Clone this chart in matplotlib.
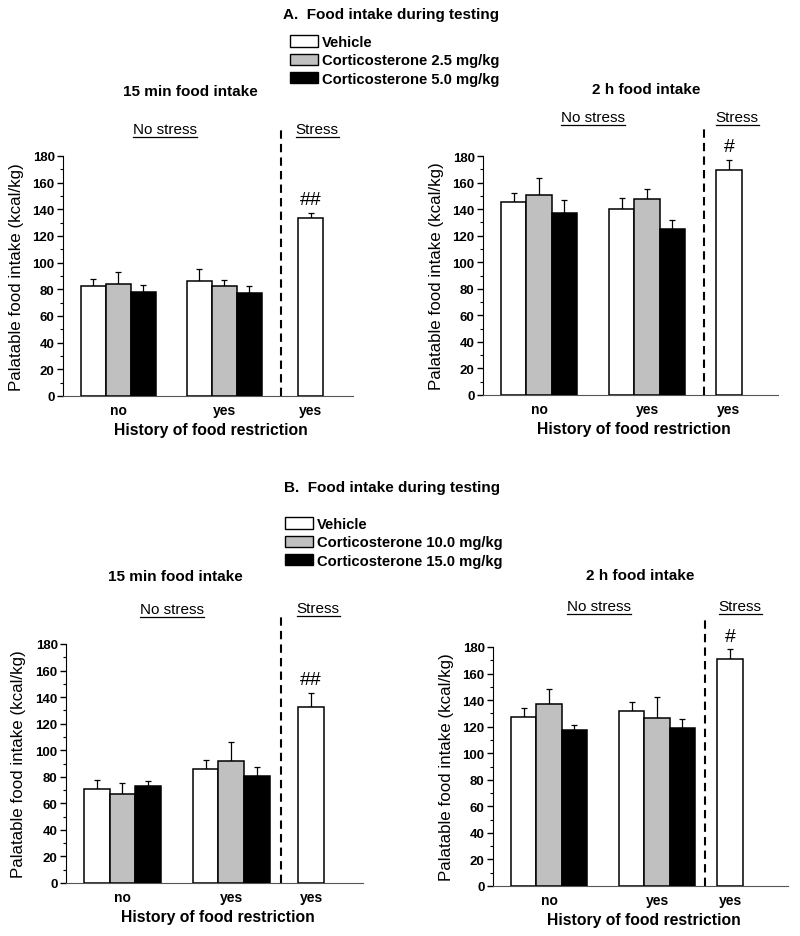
import matplotlib

matplotlib.use("Agg")
import matplotlib.pyplot as plt
from matplotlib.patches import Patch
from matplotlib.lines import Line2D
from matplotlib.ticker import MultipleLocator

plt.rcParams["font.family"] = ["Liberation Sans", "DejaVu Sans"]

# data (mean and upper error, kcal/kg)
history = ["no", "yes"]
stress_label = "yes"
colors = ["white", "#c0c0c0", "black"]

labels_a = ["Vehicle", "Corticosterone 2.5 mg/kg", "Corticosterone 5.0 mg/kg"]
labels_b = ["Vehicle", "Corticosterone 10.0 mg/kg", "Corticosterone 15.0 mg/kg"]

# A, 15 min
a15_mean = [[82.7, 86.2], [84.0, 82.5], [77.7, 77.2]]
a15_err = [[4.8, 8.8], [9.2, 4.2], [5.2, 5.0]]
a15_stress, a15_stress_err, a15_mark = 133.2, 4.3, "##"

# A, 2 h
a2h_mean = [[145.6, 139.8], [150.9, 147.6], [137.3, 125.3]]
a2h_err = [[6.8, 8.3], [12.5, 7.3], [9.8, 6.8]]
a2h_stress, a2h_stress_err, a2h_mark = 169.2, 8.1, "#"

# B, 15 min
b15_mean = [[71.0, 85.6], [67.0, 91.6], [72.8, 80.6]]
b15_err = [[6.8, 7.3], [8.6, 14.8], [4.0, 6.8]]
b15_stress, b15_stress_err, b15_mark = 132.8, 10.3, "##"

# B, 2 h
b2h_mean = [[127.4, 131.7], [136.7, 126.9], [117.3, 118.8]]
b2h_err = [[6.3, 7.0], [11.3, 15.3], [4.0, 7.1]]
b2h_stress, b2h_stress_err, b2h_mark = 170.9, 7.3, "#"

W, H = 800, 937
fig = plt.figure(figsize=(W / 100, H / 100), dpi=100)


def fx(px):
    return px / W


def fy(py):
    return 1 - py / H


underlined = []


def ftext(px, py, s, underline=False, **kw):
    t = fig.text(fx(px), fy(py), s, ha="center", va="center", **kw)
    if underline:
        underlined.append(t)
    return t


def panel(rect, mean, err, s_mean, s_err, mark, stress_x, dash_x, dash_top):
    left, top, right, bottom = rect
    ax = fig.add_axes([fx(left), fy(bottom), fx(right - left), (bottom - top) / H])
    group_x = [2.2, 6.45]
    for i in range(3):
        xs = [g + (i - 1) for g in group_x]
        ax.bar(xs, mean[i], width=1.0, color=colors[i], edgecolor="black",
               linewidth=1.1, zorder=3)
        ax.errorbar(xs, mean[i], yerr=[[0, 0], err[i]], fmt="none", ecolor="black",
                    elinewidth=0.9, capsize=2.5, capthick=0.9, zorder=2)
    ax.bar([stress_x], [s_mean], width=1.0, color="white", edgecolor="black",
           linewidth=1.1, zorder=3)
    ax.errorbar([stress_x], [s_mean], yerr=[[0], [s_err]], fmt="none", ecolor="black",
                elinewidth=0.9, capsize=2.5, capthick=0.9, zorder=2)
    ax.text(stress_x, s_mean + s_err + 10, mark, ha="center", va="center", fontsize=14)
    ax.plot([dash_x, dash_x], [0, dash_top], color="black", ls=(0, (4, 2.5)),
            lw=1.5, clip_on=False)

    ax.set_xlim(0, 11.6)
    ax.set_ylim(0, 180)
    ax.set_xticks(group_x + [stress_x])
    ax.set_xticklabels(history + [stress_label], fontweight="bold", fontsize=10)
    ax.tick_params(axis="x", length=0, pad=5)
    ax.yaxis.set_major_locator(MultipleLocator(20))
    ax.yaxis.set_minor_locator(MultipleLocator(10))
    ax.tick_params(axis="y", which="major", direction="out", length=4, width=1,
                   labelsize=9.5, pad=2)
    ax.tick_params(axis="y", which="minor", direction="out", length=2.5, width=0.8)
    for lab in ax.get_yticklabels():
        lab.set_fontweight("bold")
    ax.spines["top"].set_visible(False)
    ax.spines["right"].set_visible(False)
    ax.spines["left"].set_bounds(0, 180)
    ax.spines["bottom"].set_color("#555555")
    ax.set_ylabel("Palatable food intake (kcal/kg)", fontsize=12.2)
    ax.yaxis.set_label_coords(-0.133, 0.5)
    ax.set_xlabel("History of food restriction", fontsize=11.3, fontweight="bold")
    ax.xaxis.set_label_coords(0.51, -0.108)
    return ax


# panel A
ftext(391, 15, "A.  Food intake during testing", fontsize=11, fontweight="bold")
fig.legend(handles=[Patch(facecolor=c, edgecolor="black", linewidth=1) for c in colors],
           labels=labels_a, loc="upper left", bbox_to_anchor=(fx(290), fy(36)),
           frameon=False, prop={"weight": "bold", "size": 10.6},
           handlelength=1.9, handleheight=0.8, handletextpad=0.3,
           labelspacing=0.3, borderpad=0, borderaxespad=0)
ftext(190, 92, "15 min food intake", fontsize=11, fontweight="bold")
ftext(646, 90, "2 h food intake", fontsize=11, fontweight="bold")
ftext(165, 130, "No stress", underline=True, fontsize=11)
ftext(317, 130, "Stress", underline=True, fontsize=11)
ftext(593, 118, "No stress", underline=True, fontsize=11)
ftext(737, 118, "Stress", underline=True, fontsize=11)

ax1 = panel((63, 157, 353, 397), a15_mean, a15_err, a15_stress, a15_stress_err,
            a15_mark, 9.9, 8.72, 202)
ax2 = panel((483, 157, 778, 396), a2h_mean, a2h_err, a2h_stress, a2h_stress_err,
            a2h_mark, 9.67, 8.69, 202)

# panel B
ftext(392, 488, "B.  Food intake during testing", fontsize=11, fontweight="bold")
fig.legend(handles=[Patch(facecolor=c, edgecolor="black", linewidth=1) for c in colors],
           labels=labels_b, loc="upper left", bbox_to_anchor=(fx(285), fy(518)),
           frameon=False, prop={"weight": "bold", "size": 10.6},
           handlelength=1.9, handleheight=0.8, handletextpad=0.3,
           labelspacing=0.3, borderpad=0, borderaxespad=0)
ftext(175, 577, "15 min food intake", fontsize=11, fontweight="bold")
ftext(640, 576, "2 h food intake", fontsize=11, fontweight="bold")
ftext(172, 610, "No stress", underline=True, fontsize=11)
ftext(318, 609, "Stress", underline=True, fontsize=11)
ftext(599, 607, "No stress", underline=True, fontsize=11)
ftext(740, 607, "Stress", underline=True, fontsize=11)

ax3 = panel((66, 645, 363, 884), b15_mean, b15_err, b15_stress, b15_stress_err,
            b15_mark, 9.57, 8.41, 200)
ax4 = panel((493, 648, 788, 887), b2h_mean, b2h_err, b2h_stress, b2h_stress_err,
            b2h_mark, 9.32, 8.33, 200)

# underline the stress headers
fig.canvas.draw()
renderer = fig.canvas.get_renderer()
for t in underlined:
    bb = t.get_window_extent(renderer)
    y = bb.y0 - 1
    fig.add_artist(Line2D([bb.x0 / W, bb.x1 / W], [y / H, y / H], color="black",
                          lw=0.9, transform=fig.transFigure))

fig.savefig("out.png", dpi=100)
